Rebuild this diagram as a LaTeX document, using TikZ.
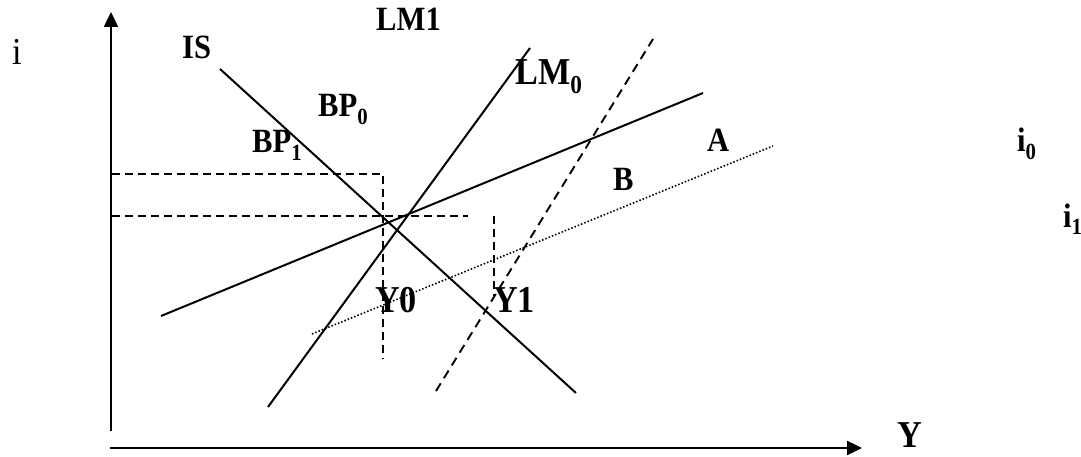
\documentclass[tikz,border=0pt]{standalone}
\usepackage{fontspec}
\setmainfont{Liberation Serif}[FakeStretch=0.9]
\usetikzlibrary{arrows.meta}
\newcommand{\subidx}[1]{\raisebox{-0.22em}{\fontsize{0.68em}{0.7em}\selectfont #1}}
\tikzset{
  lbl/.style={anchor=base west, inner sep=0pt, font=\fontsize{34}{40}\selectfont\bfseries},
  biglbl/.style={anchor=base west, inner sep=0pt, font=\fontsize{38}{44}\selectfont\bfseries},
  axis/.style={line width=2.4pt, -{Triangle[length=15pt,width=14pt]}},
  curve/.style={line width=2pt},
  dashcurve/.style={line width=1.9pt, dash pattern=on 9pt off 6pt},
  guide/.style={line width=1.6pt, dash pattern=on 8pt off 5pt},
  dotcurve/.style={line width=1.6pt, dash pattern=on 1.5pt off 2pt}
}
\begin{document}
\begin{tikzpicture}[x=1pt,y=-1pt]
\useasboundingbox (0,0) rectangle (1081,457);
% axes
\coordinate (o) at (111,431);
\coordinate (ytop) at (111,12);
\coordinate (xl) at (110,448);
\coordinate (xr) at (862,448);
\draw[axis] (o) -- (ytop);
\draw[axis] (xl) -- (xr);
% curves
\coordinate (is1) at (220,69);
\coordinate (is2) at (576,393);
\coordinate (lm01) at (268,407);
\coordinate (lm02) at (530,48);
\coordinate (bp01) at (161,316);
\coordinate (bp02) at (703,93);
\coordinate (lm11) at (436,391);
\coordinate (lm12) at (653,39);
\coordinate (bp11) at (312,334);
\coordinate (bp12) at (773,146);
\draw[curve] (is1) -- (is2);
\draw[curve] (lm01) -- (lm02);
\draw[curve] (bp01) -- (bp02);
\draw[dashcurve] (lm11) -- (lm12);
\draw[dotcurve] (bp11) -- (bp12);
% guides
\coordinate (g1a) at (112,174);
\coordinate (g1b) at (383,174);
\coordinate (g1c) at (383,359);
\coordinate (g2a) at (112,216);
\coordinate (g2b) at (468,216);
\coordinate (g3a) at (494,216);
\coordinate (g3b) at (494,296);
\draw[guide] (g1a) -- (g1b) -- (g1c);
\draw[guide] (g2a) -- (g2b);
\draw[guide] (g3a) -- (g3b);
% labels
\node[anchor=base west, inner sep=0pt, font=\fontsize{38}{44}\selectfont] (li) at (12,65) {i};
\node[lbl] (lis) at (182,59) {IS};
\node[lbl] (llm1) at (376,31) {LM1};
\node[biglbl] (llm0) at (515,85) {LM\subidx{0}};
\node[lbl] (lbp0) at (318,117) {BP\subidx{0}};
\node[lbl] (lbp1) at (252,153) {BP\subidx{1}};
\node[lbl] (la) at (707,152) {A};
\node[lbl] (lb) at (613,190) {B};
\node[lbl] (li0) at (1017,152) {i\subidx{0}};
\node[lbl] (li1) at (1063,227) {i\subidx{1}};
\node[biglbl] (ly0) at (375,312) {Y0};
\node[biglbl] (ly1) at (493,312) {Y1};
\node[biglbl] (ly) at (897,447) {Y};
\end{tikzpicture}
\end{document}
